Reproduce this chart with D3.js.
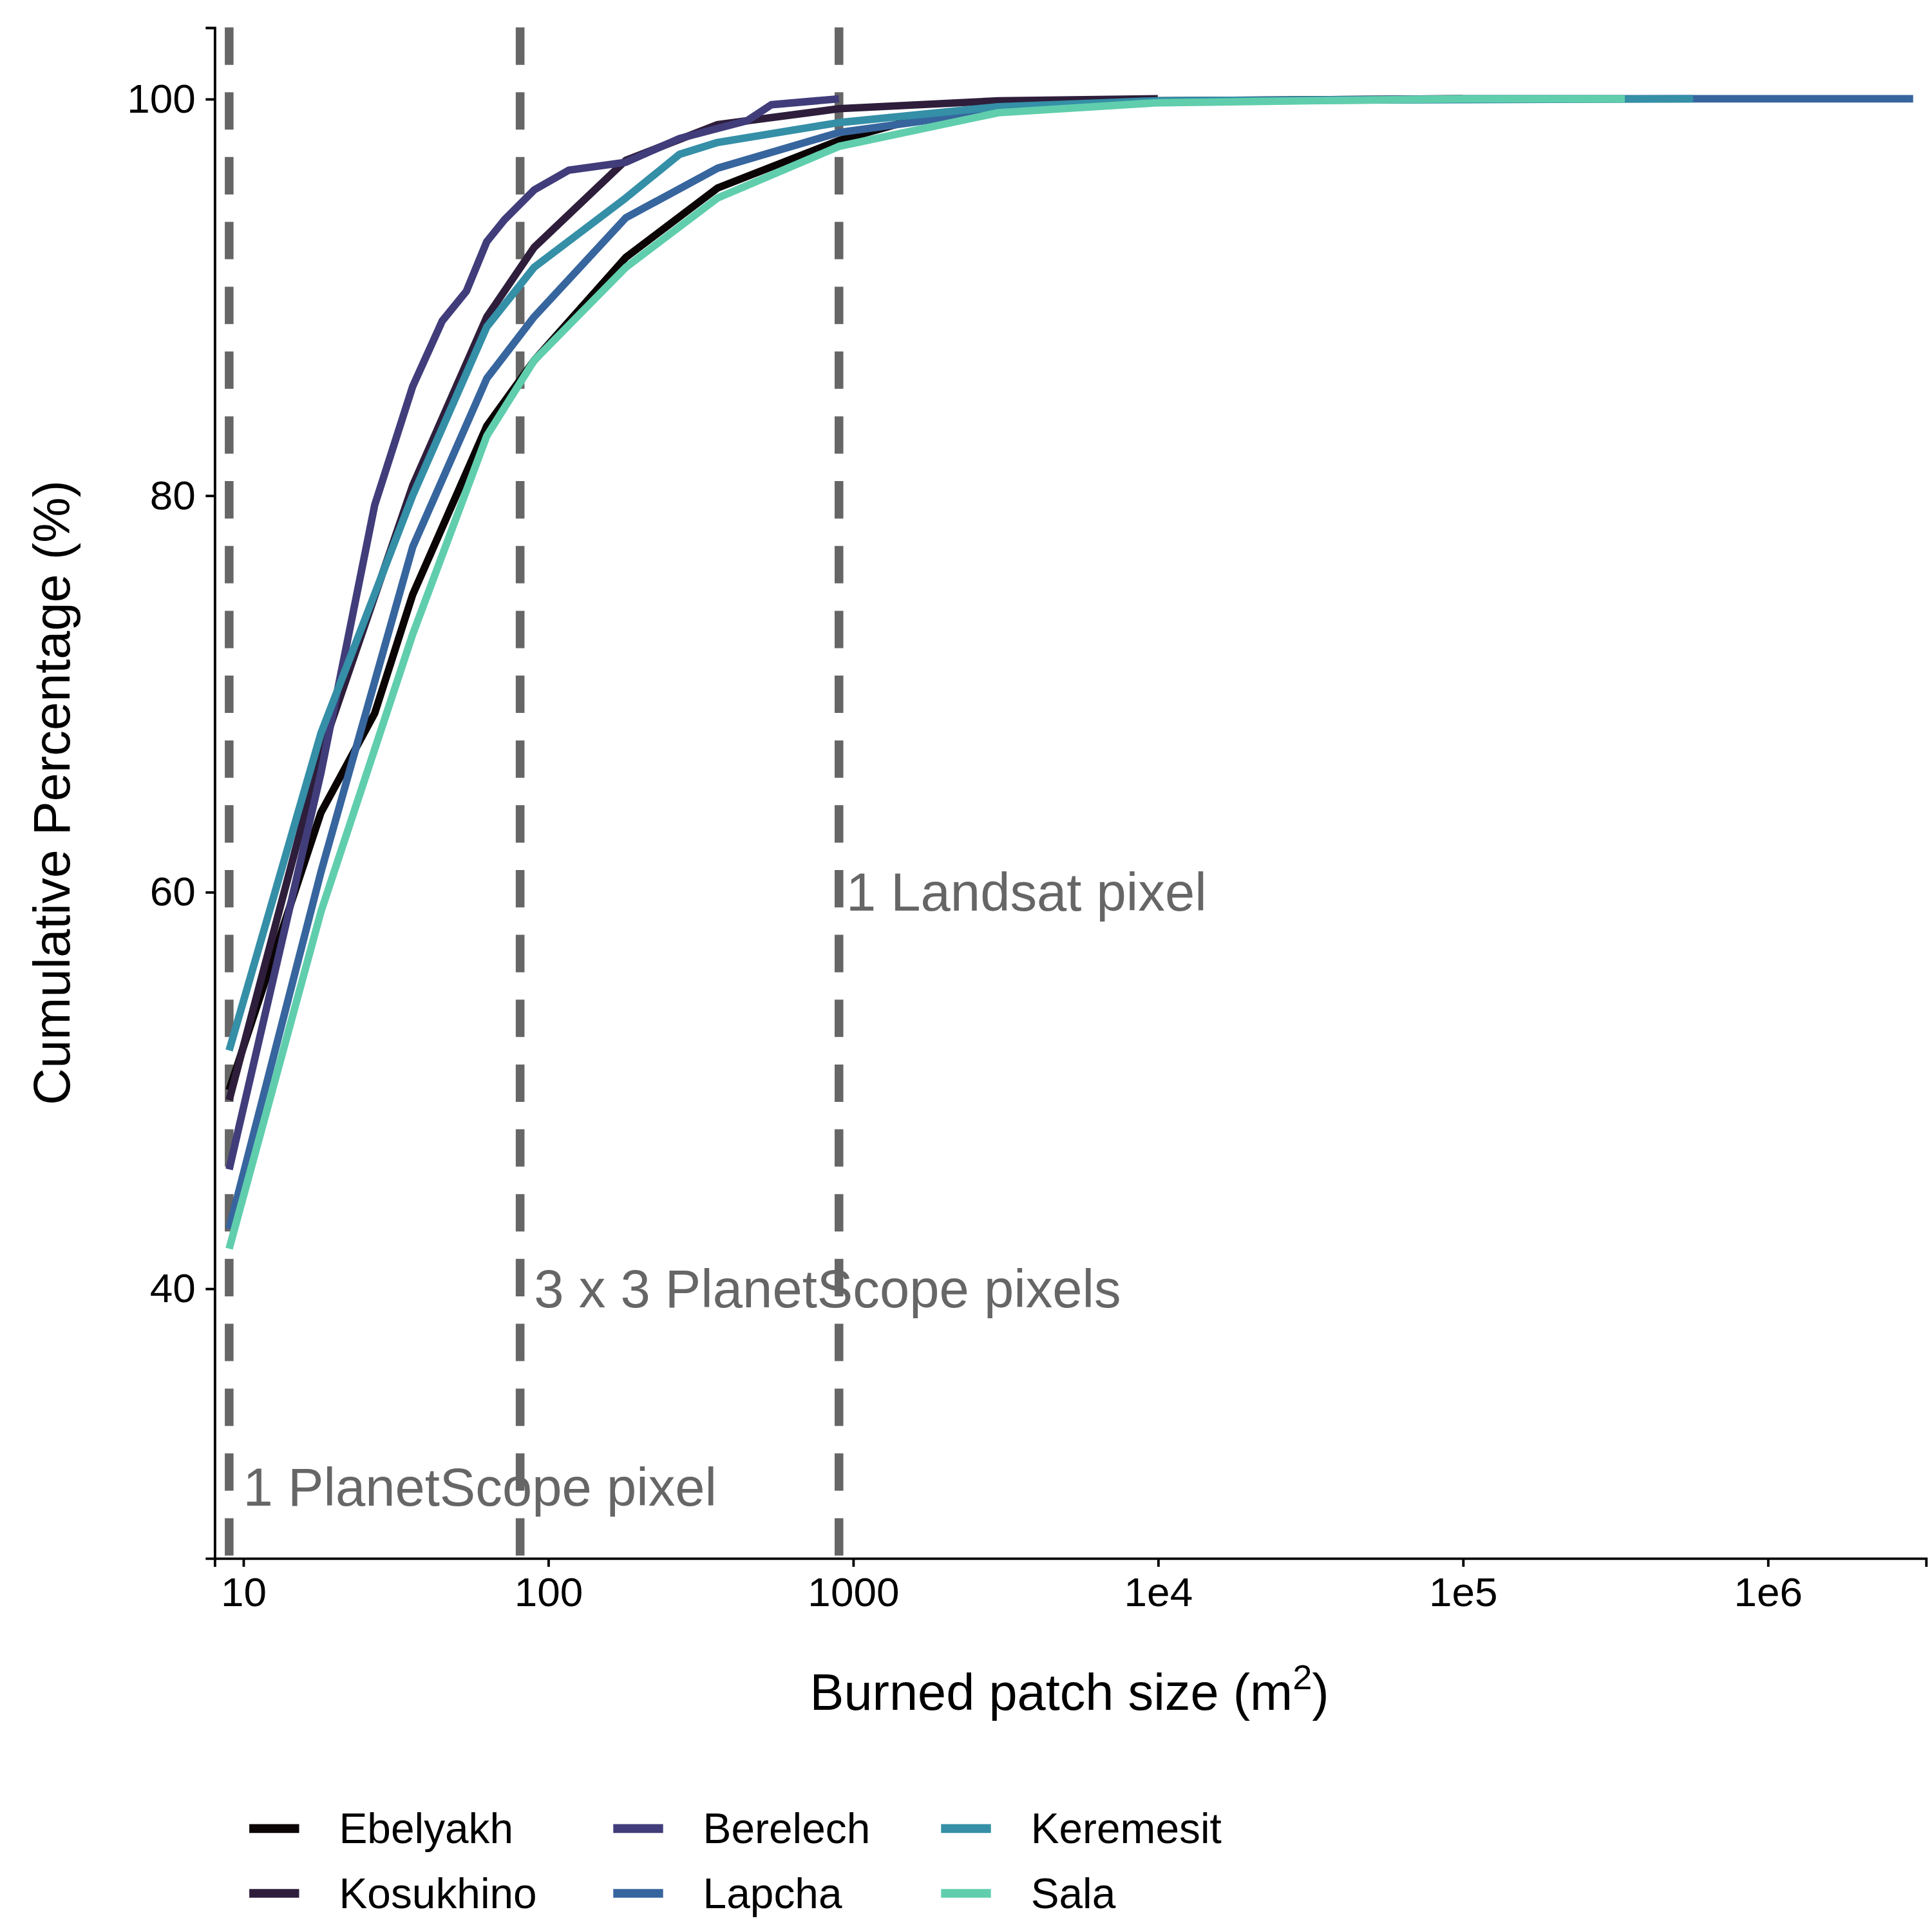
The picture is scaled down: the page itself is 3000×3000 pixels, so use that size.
<!DOCTYPE html>
<html>
<head>
<meta charset="UTF-8">
<script src="https://d3js.org/d3.v7.min.js"></script>
<style>
  body { margin: 0; background: #fff; }
  text { font-family: "Liberation Sans", Arial, sans-serif; }
</style>
</head>
<body>
<div id="chart"></div>
<script>
// data
const sites = ["Ebelyakh", "Kosukhino", "Berelech", "Lapcha", "Keremesit", "Sala"];
const colors = ["#0b0405", "#2e1e3b", "#413d7b", "#37659e", "#348fa7", "#60ceac"];

const ebelyakhX = [9, 18, 27, 36, 63, 90, 180, 360, 900, 1800, 3600, 1e4, 1e5];
const ebelyakhY = [50, 64, 69, 75, 83.5, 86.8, 92, 95.5, 97.9, 99.2, 99.7, 99.9, 100];
const kosukhinoX = [9, 18, 36, 63, 90, 180, 360, 900, 3000, 1e4];
const kosukhinoY = [49.5, 67, 80.5, 89, 92.5, 96.9, 98.7, 99.5, 99.9, 100];
const berelechX = [9, 18, 27, 36, 45, 54, 63, 72, 90, 117, 180, 270, 450, 540, 900];
const berelechY = [46, 66, 79.5, 85.5, 88.8, 90.3, 92.8, 93.9, 95.4, 96.4, 96.8, 98, 98.9, 99.7, 100];
const lapchaX = [9, 18, 36, 63, 90, 180, 360, 900, 3000, 1e4, 1e5, 3e6];
const lapchaY = [43, 61, 77.4, 85.9, 89, 94, 96.5, 98.3, 99.4, 99.9, 100, 100];
const keremesitX = [9, 18, 36, 63, 90, 180, 270, 360, 900, 3000, 1e4, 5.7e5];
const keremesitY = [52, 68, 80, 88.5, 91.5, 95, 97.2, 97.8, 98.8, 99.6, 99.9, 100];
const salaX = [9, 18, 36, 63, 90, 180, 360, 900, 3000, 1e4, 1e5, 3.4e5];
const salaY = [42, 59, 73, 83, 86.8, 91.5, 95, 97.6, 99.3, 99.8, 100, 100];

const seriesX = [ebelyakhX, kosukhinoX, berelechX, lapchaX, keremesitX, salaX];
const seriesY = [ebelyakhY, kosukhinoY, berelechY, lapchaY, keremesitY, salaY];

const xTicks = [10, 100, 1000, 1e4, 1e5, 1e6];
const xTickLabels = ["10", "100", "1000", "1e4", "1e5", "1e6"];
const yTicks = [40, 60, 80, 100];

const refX = [9, 81, 900];
const refLabels = ["1 PlanetScope pixel", "3 x 3 PlanetScope pixels", "1 Landsat pixel"];
const refLabelX = [10, 90, 950];
const refLabelY = [30, 40, 60];

const svg = d3.select("#chart").append("svg")
  .attr("width", 3000).attr("height", 3000)
  .attr("viewBox", "0 0 1550 1550");

const L = 172, R = 1545, T = 22, B = 1250;
const x = d3.scaleLog().domain([8.05, 3.3e6]).range([L, R]);
const y = d3.scaleLinear().domain([26.4, 103.6]).range([B, T]);

// reference lines
svg.selectAll(".ref").data(refX).enter().append("line")
  .attr("x1", d => x(d)).attr("x2", d => x(d))
  .attr("y1", T).attr("y2", B)
  .attr("stroke", "#666").attr("stroke-width", 7)
  .attr("stroke-dasharray", "30,22");

svg.selectAll(".refl").data(refLabels).enter().append("text")
  .attr("x", (d, i) => x(refLabelX[i]))
  .attr("y", (d, i) => y(refLabelY[i]))
  .attr("dy", "0.35em")
  .attr("font-size", 43).attr("fill", "#666")
  .text(d => d);

// curves
const line = d3.line().x(d => x(d[0])).y(d => y(d[1]));
sites.forEach((s, i) => {
  svg.append("path")
    .datum(seriesX[i].map((v, j) => [v, seriesY[i][j]]))
    .attr("d", line)
    .attr("fill", "none")
    .attr("stroke", colors[i])
    .attr("stroke-width", 6)
    .attr("stroke-linejoin", "round");
});

// axes
const xAxis = svg.append("g").attr("transform", `translate(0,${B})`)
  .call(d3.axisBottom(x).tickValues(xTicks).tickFormat((d, i) => xTickLabels[i]).tickSizeOuter(0).tickSize(7).tickPadding(8));
const yAxis = svg.append("g").attr("transform", `translate(${L},0)`)
  .call(d3.axisLeft(y).tickValues(yTicks).tickSizeOuter(0).tickSize(7).tickPadding(8));
[xAxis, yAxis].forEach(g => {
  g.select(".domain").attr("stroke-width", 2);
  g.selectAll(".tick line").attr("stroke-width", 2);
  g.selectAll(".tick text").attr("font-size", 33).attr("fill", "#000")
    .attr("font-family", "Liberation Sans, Arial, sans-serif");
});

// titles
const xt = svg.append("text").attr("x", 858).attr("y", 1372)
  .attr("text-anchor", "middle").attr("font-size", 41);
xt.append("tspan").text("Burned patch size (m");
xt.append("tspan").attr("font-size", 28).attr("dy", -17).text("2");
xt.append("tspan").attr("dy", 17).text(")");

svg.append("text").attr("transform", "translate(56,636) rotate(-90)")
  .attr("text-anchor", "middle").attr("font-size", 41)
  .text("Cumulative Percentage (%)");

// legend
const legCols = [200, 492, 755];
const legRows = [1467, 1519];
sites.forEach((s, i) => {
  const cx = legCols[Math.floor(i / 2)], cy = legRows[i % 2];
  svg.append("line").attr("x1", cx).attr("x2", cx + 40)
    .attr("y1", cy).attr("y2", cy)
    .attr("stroke", colors[i]).attr("stroke-width", 7);
  svg.append("text").attr("x", cx + 72).attr("y", cy).attr("dy", "0.35em")
    .attr("font-size", 34).text(s);
});
</script>
</body>
</html>
